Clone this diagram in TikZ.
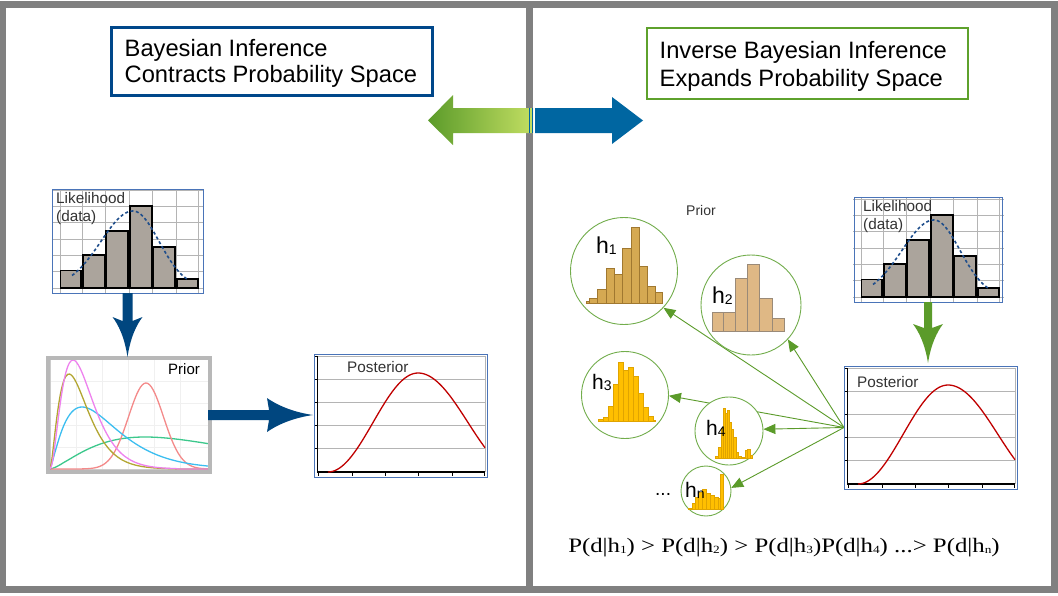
\documentclass[tikz,border=0pt]{standalone}
\usepackage{fontspec}
\usepackage{graphicx}
\setmainfont{Liberation Sans}
\newfontfamily\formulafont{Liberation Serif}
\usetikzlibrary{calc,arrows.meta,backgrounds}

\definecolor{framegray}{HTML}{808080}
\definecolor{navy}{HTML}{00467F}
\definecolor{titleblue}{HTML}{00478A}
\definecolor{titlegreen}{HTML}{5EA12C}
\definecolor{arrgreen}{HTML}{5B9B2A}
\definecolor{circgreen}{HTML}{72AD4C}
\definecolor{arrblue}{HTML}{0066A1}
\definecolor{lightgreen}{HTML}{C2DE62}
\definecolor{chartblue}{HTML}{4A74B8}
\definecolor{gridgray}{HTML}{B4B4B4}
\definecolor{barfill}{HTML}{ABA49C}
\definecolor{curveblue}{HTML}{1F4E8C}
\definecolor{postred}{HTML}{C00000}
\definecolor{priorgray}{HTML}{B8B8B8}
\definecolor{cmag}{HTML}{EE82EE}
\definecolor{colive}{HTML}{B3A632}
\definecolor{ccyan}{HTML}{3CBEF0}
\definecolor{cteal}{HTML}{3CC88C}
\definecolor{csalmon}{HTML}{F48A8A}
\definecolor{hone}{HTML}{D5A952}
\definecolor{honeline}{HTML}{A07830}
\definecolor{htwo}{HTML}{DFB885}
\definecolor{htwoline}{HTML}{9A8A78}
\definecolor{hgold}{HTML}{FFBF00}
\definecolor{hgoldline}{HTML}{E0A400}
\definecolor{textgray}{HTML}{333333}

\newcommand\hsub[1]{{\fontsize{11}{11}\selectfont\raisebox{-1pt}{#1}}}
\newcommand\hlsub[1]{{\fontsize{14}{14}\selectfont\raisebox{-1.5pt}{#1}}}

\newcommand\likechart{%
  \foreach \yy in {190.5,206.5,222.7,239,255.5,271.5}
    \draw[gridgray, line width=0.8pt] (52,\yy) -- (203,\yy);
  \foreach \xx in {60,82,105,129,152,176,198}
    \draw[gridgray, line width=0.8pt] (\xx,189) -- (\xx,293);
  \draw[gridgray, line width=0.8pt] (52,288) -- (203,288);
  \foreach \a/\b/\t in {60.7/81/270.7, 83/105/255, 106/128/231, 130/152/206, 153/175/247, 177/198/279}
    \draw[fill=barfill, line width=1.1pt] (\a,288) rectangle (\b,\t);
  \draw[curveblue, line width=1.6pt, dash pattern=on 3pt off 2.5pt]
    plot[domain=72:133, samples=30, smooth] (\x, {288-77*exp(-(\x-133)^2/(2*32^2))})
    -- plot[domain=133:187, samples=30, smooth] (\x, {288-77*exp(-(\x-133)^2/(2*26^2))});
}

\newcommand\postchart{%
  \foreach \yy in {379,402,425,448}
    \draw[gridgray, line width=0.8pt] (318,\yy) -- (485,\yy);
  \draw[gridgray, line width=0.8pt] (318,356.5) -- (485,356.5) -- (485,472);
  \foreach \yy in {356.5,379,402,425,448}
    \draw[black, line width=1pt] (315,\yy) -- (318,\yy);
  \foreach \xx in {318,352,385,418,452,484.5}
    \draw[black, line width=1pt] (\xx,472) -- (\xx,476);
  \draw[black, line width=1.2pt] (317.5,356) -- (317.5,472) -- (485,472);
  \draw[postred, line width=1.3pt]
    plot[domain=328:418, samples=40] (\x, {472-49.5*(1-cos(2*(\x-328)))})
    -- plot[domain=418:485, samples=35] (\x, {472-49.5*(1+cos(1.8*(\x-418)))});
}

\tikzset{
  titlebox/.style={draw, line width=3pt, fill=white, minimum width=321pt, minimum height=68pt, inner sep=0pt},
  titletext/.style={anchor=west, align=left, inner sep=0pt, text=black},
  chartframe/.style={draw=chartblue, line width=1pt, inner sep=0pt, outer sep=0pt},
  chartlabel/.style={anchor=base west, inner sep=0pt, text=textgray, font=\fontsize{15.3}{15.3}\selectfont},
  hcirc/.style={circle, draw=circgreen, line width=0.9pt, fill=white, inner sep=0pt},
  hlab/.style={anchor=base west, inner sep=0pt, text=black},
  greenarrow/.style={draw=arrgreen, line width=0.9pt, -{Triangle[length=12pt,width=10pt]}},
  hbarone/.style={fill=hone, draw=honeline, line width=0.6pt},
  hbartwo/.style={fill=htwo, draw=htwoline, line width=0.8pt},
  hbargold/.style={fill=hgold, draw=hgoldline, line width=0.5pt},
  priorcurve/.style={line width=1.3pt}
}

\begin{document}
\begin{tikzpicture}[x=1pt,y=-1pt]
\useasboundingbox (0,0) rectangle (1058,595);
\begin{pgfonlayer}{background}
  \fill[white] (0,0) rectangle (1058,595);
\end{pgfonlayer}

% frame
\fill[framegray] (0,1) rectangle (1058,8);
\fill[framegray] (0,586) rectangle (1058,593);
\fill[framegray] (0,1) rectangle (6,593);
\fill[framegray] (1051,1) rectangle (1058,593);
\fill[framegray] (526,1) rectangle (533,593);

% titles
\node[titlebox, draw=titleblue] (tl) at (271.5,61) {};
\node[titletext, font=\fontsize{23.7}{26.5}\selectfont] (tltext) at (124.5,63.5) {Bayesian Inference\\Contracts Probability Space};
\node[titlebox, draw=titlegreen, line width=2.5pt, minimum height=71pt] (tr) at (807.5,63.5) {};
\node[titletext, font=\fontsize{23.7}{28}\selectfont] (trtext) at (659.5,66) {Inverse Bayesian Inference\\Expands Probability Space};

% double arrow
\shade[left color=arrgreen, right color=lightgreen] (428,120.5) -- (453,95) -- (453,108) -- (533,108) -- (533,133) -- (453,133) -- (453,145) -- cycle;
\fill[arrblue] (529,108) rectangle (530,133);
\fill[arrblue] (531.5,108) rectangle (532.3,133);
\fill[arrblue] (535,108) -- (612,108) -- (612,97) -- (643,120.5) -- (612,144) -- (612,133) -- (535,133) -- cycle;

% left likelihood chart
\likechart
\node[chartframe, minimum width=151pt, minimum height=104pt] (lik1) at (127.5,241) {};
\node[chartlabel] (lik1a) at (56,203.5) {Likelihood};
\node[chartlabel] (lik1b) at (56,221) {(data)};

% prior chart
\foreach \xx in {76,102,128,154,180} \draw[gray!12] (\xx,360) -- (\xx,469);
\foreach \yy in {381,403,425,447} \draw[gray!12] (50,\yy) -- (208,\yy);
\draw[gray!40] (50,360) -- (50,469) -- (208,469);
\draw[cteal, priorcurve] plot[domain=0.01:158, samples=60, smooth] ({50+\x}, {469-32*(\x/95)^1.5*exp(1.5*(1-\x/95))});
\draw[csalmon, priorcurve] plot[domain=0:158, samples=90, smooth] ({50+\x}, {469-86*exp(-((\x-96)^2)/(2*17.5^2))});
\draw[ccyan, priorcurve] plot[domain=0.01:158, samples=80, smooth] ({50+\x}, {469-62*(\x/32)^1.3*exp(1.3*(1-\x/32))});
\draw[colive, priorcurve] plot[domain=0.01:158, samples=90, smooth] ({50+\x}, {469-95*(\x/19)^1.6*exp(1.6*(1-\x/19))});
\draw[cmag, priorcurve] plot[domain=0.01:158, samples=90, smooth] ({50+\x}, {469-109*(\x/23)^2*exp(2*(1-\x/23))});
\node[draw=priorgray, line width=4pt, minimum width=162pt, minimum height=114pt, inner sep=0pt] (prior) at (129,415) {};
\node[anchor=base west, inner sep=0pt, font=\fontsize{15}{15}\selectfont] (priorlab1) at (168,374) {Prior};

% left posterior
\postchart
\node[chartframe, minimum width=173pt, minimum height=123pt] (post1) at (400.5,415.5) {};
\node[chartlabel] (post1lab) at (347,372) {Posterior};

% left block arrows
\begin{scope}[shift={(lik1.south)}]
  \fill[navy] (-5,0) -- (-5,28) -- (-15,24) .. controls (-9,32) and (-3,44) .. (0,64)
    .. controls (3,44) and (9,32) .. (15,24) -- (5,28) -- (5,0) -- cycle;
\end{scope}
\begin{scope}[shift={(prior.east)}]
  \fill[navy] (-4,-5) -- (57,-5) -- (55,-17) .. controls (68,-8) and (84,-2.5) .. (101,0)
    .. controls (84,2.5) and (68,8) .. (55,17) -- (57,5) -- (-4,5) -- cycle;
\end{scope}

% right likelihood chart
\begin{scope}[shift={(801,9)}]
  \likechart
\end{scope}
\node[chartframe, minimum width=148pt, minimum height=105pt] (lik2) at (928,249.5) {};
\node[chartlabel] (lik2a) at (863,211) {Likelihood};
\node[chartlabel] (lik2b) at (863,229) {(data)};

% right posterior
\begin{scope}[shift={(530,12)}]
  \postchart
\end{scope}
\node[chartframe, minimum width=173pt, minimum height=123pt] (post2) at (930.5,427.5) {};
\node[chartlabel] (post2lab) at (857,387) {Posterior};

% green down arrow
\begin{scope}[shift={(lik2.south)}]
  \fill[arrgreen] (-4,0) -- (-4,26) -- (-15,22) .. controls (-9,30) and (-3,42) .. (0,61)
    .. controls (3,42) and (9,30) .. (15,22) -- (4,26) -- (4,0) -- cycle;
\end{scope}

% hypothesis circles
\node[anchor=center, font=\fontsize{14}{14}\selectfont, text=textgray] (priorlab2) at (701,210) {Prior};
\node[hcirc, minimum size=107pt] (h1) at (624,271) {};
\node[hcirc, minimum size=100pt] (h2) at (751,305) {};
\node[hcirc, minimum size=87pt] (h3) at (625,395) {};
\node[hcirc, minimum size=68pt] (h4) at (729,431) {};
\node[hcirc, minimum size=50pt] (hn) at (706,491) {};

\foreach \a/\b/\t in {586/589/301, 589/597/298, 597/606/289, 606/614/268, 614/622/274, 622/631/248, 631/639/227, 639/647/266, 647/655/286, 655/662/292}
  \draw[hbarone] (\a,303) rectangle (\b,\t);
\foreach \a/\b/\t in {712/723/312, 723/735/312, 735/747/278, 747/759/264, 759/772/298, 772/784/318}
  \draw[hbartwo] (\a,331) rectangle (\b,\t);
\foreach \a/\b/\t in {598/603/419, 603/608/417, 608/613/406, 613/618/384, 618/623/362, 623/628/370, 628/633/367, 633/638/376, 638/643/393, 643/648/407, 648/653/416, 653/655/420}
  \draw[hbargold] (\a,421) rectangle (\b,\t);
\foreach \a/\b/\t in {715/718/456, 718/721/447, 721/723/428, 723/725/408, 725/727/413, 727/729/410, 729/731/422, 731/733/429, 733/736/437, 736/738/452, 738/741/456, 741/745/457, 745/747/450, 747/750/449, 750/752/455}
  \draw[hbargold] (\a,458) rectangle (\b,\t);
\foreach \a/\b/\t in {688/692/508, 692/695/503, 695/698/497, 698/702/492, 702/706/489, 706/710/493, 710/714/495, 714/718/497, 718/720/498, 720/723/474}
  \draw[hbargold] (\a,509) rectangle (\b,\t);

\node[hlab, font=\fontsize{23}{23}\selectfont] (h1l) at (596,253) {h\hlsub{1}};
\node[hlab, font=\fontsize{23}{23}\selectfont] (h2l) at (712,303) {h\hlsub{2}};
\node[hlab, font=\fontsize{21}{21}\selectfont] (h3l) at (592,389) {h\hlsub{3}};
\node[hlab, font=\fontsize{21}{21}\selectfont] (h4l) at (706,435) {h\hlsub{4}};
\node[hlab, font=\fontsize{21}{21}\selectfont] (hnl) at (685,497) {h\hlsub{n}};
\node[hlab, font=\fontsize{19}{19}\selectfont] (dots) at (655,495) {...};

% green connectors (behind circles)
\begin{pgfonlayer}{background}
  \draw[greenarrow] (post2.west) -- (h1.-43);
  \draw[greenarrow] (post2.west) -- (h2.-43);
  \draw[greenarrow] (post2.west) -- (h3.-1);
  \draw[greenarrow] (post2.west) -- (h4.3);
  \draw[greenarrow] (post2.west) -- (hn.7);
\end{pgfonlayer}

% formula
\node[font=\formulafont\fontsize{20.5}{20.5}\selectfont, inner sep=0pt] (formula) at (784,548)
  {\scalebox{1.21}[1]{P(d|h\hsub{1}) > P(d|h\hsub{2}) > P(d|h\hsub{3})P(d|h\hsub{4}) ...> P(d|h\hsub{n})}};
\end{tikzpicture}
\end{document}
